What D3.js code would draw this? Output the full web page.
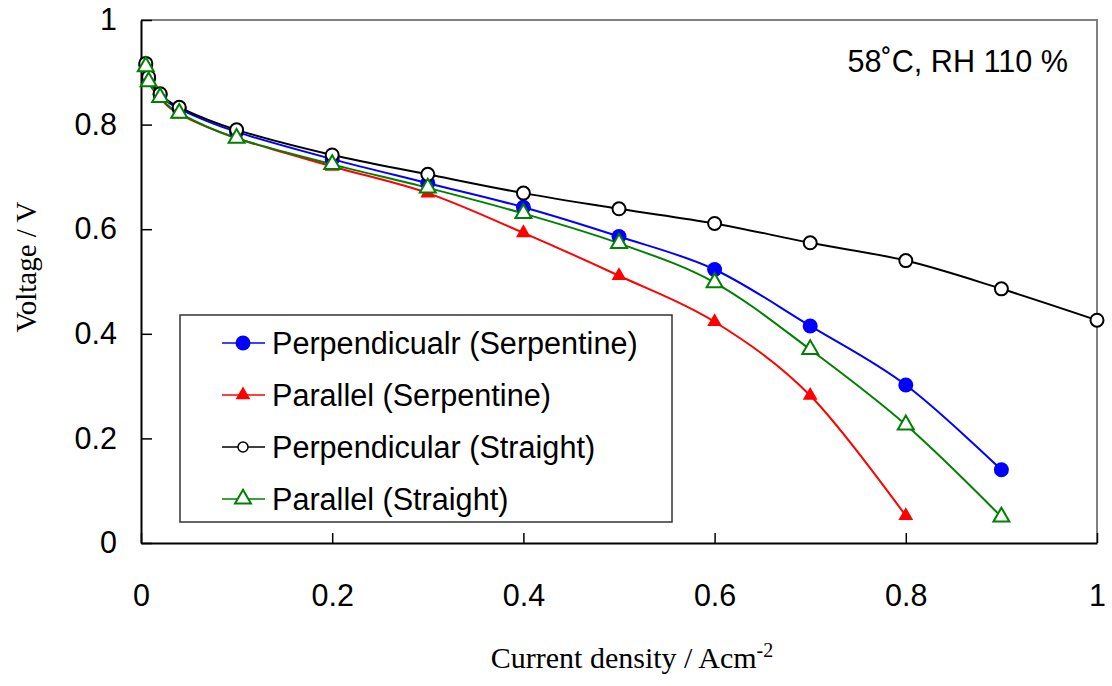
<!DOCTYPE html>
<html>
<head>
<meta charset="utf-8">
<script src="https://cdn.jsdelivr.net/npm/d3@7"></script>
<style>
  body { margin: 0; background: #fff; }
  svg { display: block; }
</style>
</head>
<body>
<svg width="1112" height="686"></svg>
<script>
// current density (A/cm2) for each measured point
var current = [0.005, 0.008, 0.02, 0.04, 0.1, 0.2, 0.3, 0.4, 0.5, 0.6, 0.7, 0.8, 0.9, 1.0];

// voltages
var perpSerp = [0.914, 0.888, 0.857, 0.830, 0.786, 0.734, 0.688, 0.642, 0.586, 0.523, 0.415, 0.302, 0.140];
var paraSerp = [0.911, 0.882, 0.851, 0.820, 0.774, 0.720, 0.669, 0.593, 0.511, 0.423, 0.282, 0.052];
var perpStraight = [0.917, 0.891, 0.859, 0.833, 0.790, 0.742, 0.705, 0.669, 0.639, 0.611, 0.574, 0.540, 0.486, 0.426];
var paraStraight = [0.911, 0.882, 0.852, 0.822, 0.774, 0.724, 0.679, 0.630, 0.573, 0.498, 0.370, 0.226, 0.050];

var names = ["Perpendicualr (Serpentine)", "Parallel (Serpentine)", "Perpendicular (Straight)", "Parallel (Straight)"];
var xTicks = [0, 0.2, 0.4, 0.6, 0.8, 1];
var yTicks = [0, 0.2, 0.4, 0.6, 0.8, 1];

var series = [
  { name: names[0], values: perpSerp, color: "#0000ff", shape: "circle", filled: true },
  { name: names[1], values: paraSerp, color: "#ff0000", shape: "triangle", filled: true },
  { name: names[2], values: perpStraight, color: "#000000", shape: "circle", filled: false },
  { name: names[3], values: paraStraight, color: "#008000", shape: "triangle", filled: false }
];
series.forEach(function (s) {
  s.points = s.values.map(function (v, i) { return [current[i], v]; });
});

var svg = d3.select("svg");
var plotLeft = 141, plotRight = 1097, plotTop = 20, plotBottom = 543;

var x = d3.scaleLinear().domain([0, 1]).range([plotLeft, plotRight]);
var y = d3.scaleLinear().domain([0, 1]).range([plotBottom, plotTop]);

var sans = "'Liberation Sans', Arial, sans-serif";
var serif = "'Liberation Serif', 'Times New Roman', serif";

// gray frame on top and right
svg.append("path")
  .attr("d", "M" + plotLeft + "," + plotTop + "H" + plotRight + "V" + plotBottom)
  .attr("fill", "none")
  .attr("stroke", "#808080")
  .attr("stroke-width", 2);

var xAxis = svg.append("g")
  .attr("transform", "translate(0," + plotBottom + ")")
  .call(d3.axisBottom(x).tickValues(xTicks).tickSizeInner(-10).tickSizeOuter(0).tickPadding(41)
    .tickFormat(d3.format("")));
var yAxis = svg.append("g")
  .attr("transform", "translate(" + plotLeft + ",0)")
  .call(d3.axisLeft(y).tickValues(yTicks).tickSizeInner(-11).tickSizeOuter(0).tickPadding(24)
    .tickFormat(d3.format("")));

[xAxis, yAxis].forEach(function (g) {
  g.select(".domain").attr("stroke", "#000").attr("stroke-width", 2);
  g.selectAll(".tick line").attr("stroke", "#000").attr("stroke-width", 1.5);
  g.selectAll(".tick text").attr("font-family", sans).attr("font-size", 30.5).attr("fill", "#000");
});

var line = d3.line()
  .x(function (d) { return x(d[0]); })
  .y(function (d) { return y(d[1]); })
  .curve(d3.curveCatmullRom.alpha(0));

svg.selectAll("path.series")
  .data(series)
  .enter()
  .append("path")
  .attr("class", "series")
  .attr("d", function (d) { return line(d.points); })
  .attr("fill", "none")
  .attr("stroke", function (d) { return d.color; })
  .attr("stroke-width", 2);

function marker(sel, s, small) {
  if (s.shape === "circle") {
    sel.append("circle")
      .attr("r", s.filled ? 7.5 : (small ? 5 : 6.5))
      .attr("fill", s.filled ? s.color : "#fff")
      .attr("stroke", s.color)
      .attr("stroke-width", s.filled ? 0 : (small ? 1.5 : 2));
  } else {
    sel.append("path")
      .attr("d", d3.symbol().type(d3.symbolTriangle).size(s.filled ? 95 : 110)())
      .attr("fill", s.filled ? s.color : "#fff")
      .attr("stroke", s.color)
      .attr("stroke-width", s.filled ? 0 : 2);
  }
}

series.forEach(function (s) {
  svg.append("g").selectAll("g")
    .data(s.points)
    .enter()
    .append("g")
    .attr("transform", function (d) { return "translate(" + x(d[0]) + "," + y(d[1]) + ")"; })
    .each(function () { marker(d3.select(this), s, false); });
});

// legend
var legend = svg.append("g");
legend.append("rect")
  .attr("x", 180).attr("y", 315).attr("width", 492).attr("height", 207)
  .attr("fill", "#fff").attr("stroke", "#333").attr("stroke-width", 1.5);

var rows = legend.selectAll("g.row")
  .data(series)
  .enter()
  .append("g")
  .attr("class", "row")
  .attr("transform", function (d, i) { return "translate(0," + (343 + i * 52) + ")"; });
rows.append("line")
  .attr("x1", 222).attr("x2", 265)
  .attr("stroke", function (d) { return d.color; })
  .attr("stroke-width", 1.5);
rows.append("g")
  .attr("transform", "translate(243,0)")
  .each(function (d) { marker(d3.select(this), d, true); });
rows.append("text")
  .attr("x", 272).attr("dy", "0.35em")
  .attr("font-family", sans).attr("font-size", 30.6)
  .text(function (d) { return d.name; });

// annotation
svg.append("text")
  .attr("x", 1068).attr("y", 72)
  .attr("text-anchor", "end")
  .attr("font-family", sans).attr("font-size", 30.6)
  .text("58˚C, RH 110 %");

// axis titles
var xt = svg.append("text")
  .attr("x", 632).attr("y", 668)
  .attr("text-anchor", "middle")
  .attr("font-family", serif).attr("font-size", 30);
xt.append("tspan").text("Current density / Acm");
xt.append("tspan").attr("dy", -11).attr("font-size", 20).text("-2");

svg.append("text")
  .attr("transform", "translate(36,267) rotate(-90)")
  .attr("text-anchor", "middle")
  .attr("font-family", serif).attr("font-size", 29)
  .text("Voltage / V");
</script>
</body>
</html>
